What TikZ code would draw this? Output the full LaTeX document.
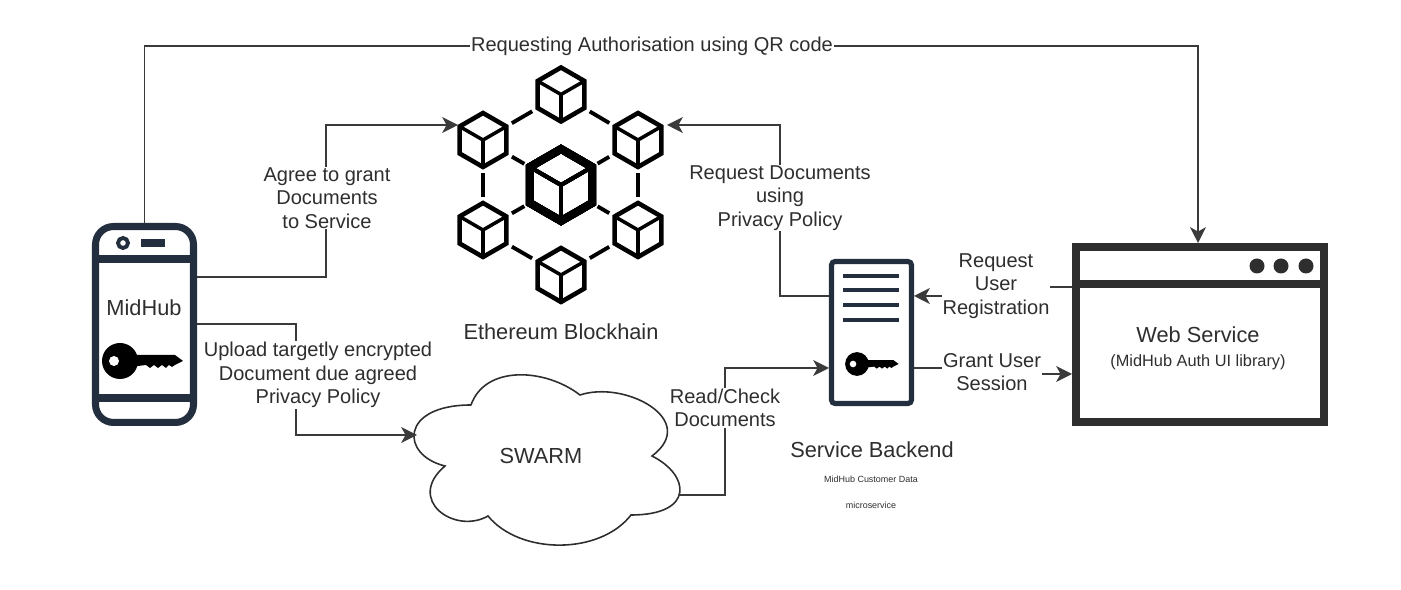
\documentclass[tikz,border=0pt]{standalone}
\usepackage{fontspec}
\setmainfont{Liberation Sans}
\usetikzlibrary{arrows.meta}
\definecolor{iconnavy}{HTML}{232F3E}
\definecolor{linegray}{HTML}{3A3A3A}
\definecolor{textgray}{HTML}{2E2E2E}
\tikzset{
  conn/.style={draw=linegray, line width=0.8pt},
  arrowconn/.style={conn, -{Stealth[length=9pt, width=9pt, inset=2.5pt]}},
  labelbox/.style={fill=white, text=textgray, align=center, inner sep=0.5pt, font=\fontsize{11.4}{13.4}\selectfont},
  plaintext/.style={text=textgray, align=center, inner sep=0pt, font=\fontsize{12.4}{14}\selectfont},
  cubenode/.style={circle, inner sep=0pt, minimum size=1.32cm},
  hubnode/.style={circle, inner sep=0pt, minimum size=1.68cm},
  cubelink/.style={draw=black, line width=2.2pt},
  keyicon/.pic={
    \fill[black] (0,0) circle (18);
    \fill[black] (10,-6) -- (55,-6) -- (63,0) -- (55,4) -- (52,6) -- (49,4) -- (46,7) -- (42,4) -- (38,7) -- (34,4) -- (30,7) -- (26,4) -- (10,6) -- cycle;
    \fill[white] (-6,0) circle (5);
  }
}
\newcommand{\cubeicon}[5]{% x, y, radius, outer width, inner width
  \begin{scope}[shift={(#1,#2)}, line join=miter]
    \draw[line width=#4] (0,-#3) -- (.866*#3,-.5*#3) -- (.866*#3,.5*#3) -- (0,#3) -- (-.866*#3,.5*#3) -- (-.866*#3,-.5*#3) -- cycle;
    \draw[line width=#5] (-.866*#3,-.5*#3) -- (0,0) -- (.866*#3,-.5*#3) (0,0) -- (0,#3);
  \end{scope}
}
\begin{document}
\begin{tikzpicture}[x=0.02cm, y=-0.02cm]
\useasboundingbox (0,0) rectangle (1401,590);

% blockchain
\foreach \cx/\cy in {561/94.5, 483/140, 638/140, 483/230, 638/230, 561/275}
  \cubeicon{\cx}{\cy}{27}{2.6pt}{2pt}
\cubeicon{561}{185}{36}{4.5pt}{2.2pt}
\node[cubenode] (cubetop) at (561,94.5) {};
\node[cubenode] (cubeupleft) at (483,140) {};
\node[cubenode] (cubeupright) at (638,140) {};
\node[cubenode] (cubelowleft) at (483,230) {};
\node[cubenode] (cubelowright) at (638,230) {};
\node[cubenode] (cubebottom) at (561,275) {};
\node[hubnode] (cubehub) at (561,185) {};
\draw[cubelink] (cubetop) -- (cubeupleft);
\draw[cubelink] (cubetop) -- (cubeupright);
\draw[cubelink] (cubeupleft) -- (cubelowleft);
\draw[cubelink] (cubeupright) -- (cubelowright);
\draw[cubelink] (cubelowleft) -- (cubebottom);
\draw[cubelink] (cubelowright) -- (cubebottom);
\foreach \c in {cubeupleft, cubeupright, cubelowleft, cubelowright}
  \draw[cubelink] (cubehub) -- (\c);
\node[plaintext] (chainname) at (561,332) {Ethereum Blockhain};

% phone
\node[draw=iconnavy, line width=4pt, rounded corners=0.36cm, minimum width=1.96cm, minimum height=3.92cm, inner sep=0pt] (phone) at (144.5,324.5) {};
\draw[iconnavy, line width=4pt] (96,259) -- (193,259) (96,398) -- (193,398);
\draw[iconnavy, line width=2.2pt] (123,243) circle (5);
\fill[iconnavy] (141,239) rectangle (165,247);
\node[plaintext] (midhub) at (144,308) {MidHub};
\pic at (120,361) {keyicon};

% server
\node[draw=iconnavy, line width=2.9pt, rounded corners=2pt, minimum width=1.6cm, minimum height=2.84cm, inner sep=0pt] (server) at (871.5,332.5) {};
\foreach \ly in {276,290,305,320}
  \draw[iconnavy, line width=2.8pt] (843,\ly) -- (899,\ly);
\pic[scale=0.66] at (857,364) {keyicon};
\node[text=textgray, inner sep=0pt, font=\fontsize{12.4}{14}\selectfont] (backend) at (872,450) {Service Backend};
\node[text=textgray, inner sep=0pt, font=\fontsize{5.1}{6}\selectfont] (customer) at (871,479) {MidHub Customer Data};
\node[text=textgray, inner sep=0pt, font=\fontsize{5.1}{6}\selectfont] (micro) at (871,505) {microservice};

% web service
\node[draw=textgray, line width=4.5pt, minimum width=4.96cm, minimum height=3.5cm, inner sep=0pt] (web) at (1200,334.5) {};
\draw[textgray, line width=4.5pt] (1076,284) -- (1324,284);
\foreach \dx in {1257,1281,1306}
  \fill[textgray] (\dx,266) circle (7.5);
\node[plaintext] (webname) at (1198,335) {Web Service};
\node[plaintext, font=\fontsize{9.3}{11}\selectfont] (weblib) at (1198,362) {(MidHub Auth UI library)};

% swarm
\draw[line width=0.9pt, draw=textgray] (471,405) .. controls (485,365) and (545,368) .. (580,395)
  .. controls (625,380) and (700,420) .. (652,456)
  .. controls (690,475) and (695,515) .. (631,515)
  .. controls (600,555) and (520,555) .. (488,516)
  .. controls (455,535) and (405,500) .. (445,466)
  .. controls (400,455) and (400,405) .. (471,405);
\node[plaintext] (swarm) at (541,456) {SWARM};

% connectors
\coordinate (phoneup) at (197,277);
\coordinate (phonelow) at (197,324);
\coordinate (chainleft) at (458,125);
\coordinate (chainright) at (667,125);
\coordinate (swarmin) at (417,435);
\coordinate (swarmout) at (678,495);
\coordinate (serverA) at (829,296);
\coordinate (serverB) at (914,296);
\coordinate (serverC) at (829,368);
\coordinate (serverD) at (914,368);
\coordinate (webA) at (1072,287);
\coordinate (webB) at (1072,374);
\draw[arrowconn] (phone.north) -- (144.5,46) -- (1198,46) -- (1198,243);
\draw[arrowconn] (phoneup) -- (326,277) -- (326,125) -- (chainleft);
\draw[arrowconn] (phonelow) -- (296,324) -- (296,435) -- (swarmin);
\draw[arrowconn] (serverA) -- (780,296) -- (780,125) -- (chainright);
\draw[arrowconn] (webA) -- (996,287) -- (996,296) -- (serverB);
\draw[arrowconn] (serverD) -- (992,368) -- (992,374) -- (webB);
\draw[arrowconn] (swarmout) -- (725,495) -- (725,368) -- (serverC);

\node[labelbox] (authlabel) at (652,46) {Requesting Authorisation using QR code};
\node[labelbox] (agreelabel) at (327,198) {Agree to grant\\Documents\\to Service};
\node[labelbox] (uploadlabel) at (318,375) {Upload targetly encrypted\\Document due agreed\\Privacy Policy};
\node[labelbox] (requestlabel) at (780,198) {Request Documents\\using\\Privacy Policy};
\node[labelbox] (registerlabel) at (996,286) {Request\\User\\Registration};
\node[labelbox] (grantlabel) at (992,372) {Grant User\\Session};
\node[labelbox] (readlabel) at (725,408) {Read/Check\\Documents};
\end{tikzpicture}
\end{document}
